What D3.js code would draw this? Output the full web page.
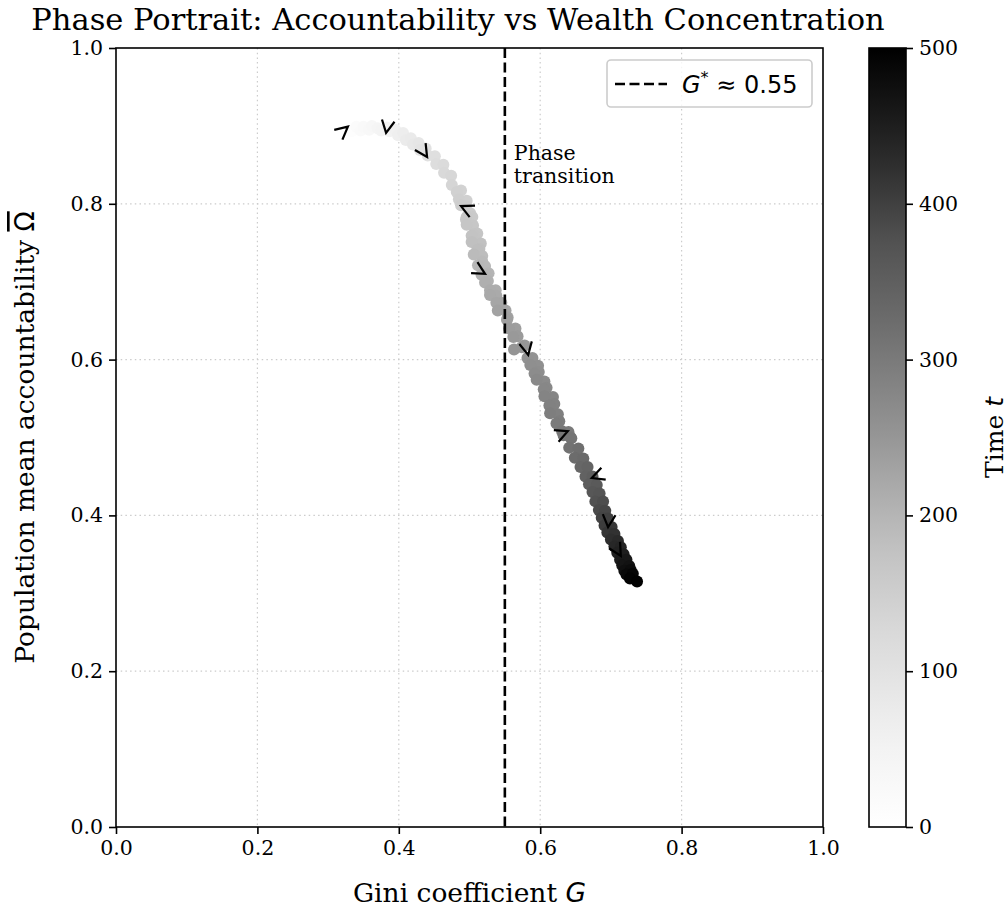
<!DOCTYPE html>
<html>
<head>
<meta charset="utf-8">
<script src="https://cdn.jsdelivr.net/npm/d3@7"></script>
<style>
  html, body { margin: 0; padding: 0; background: #fff; }
  svg { display: block; }
  text { font-family: "DejaVu Serif", serif; fill: #000; }
  .math { font-family: "DejaVu Sans", sans-serif; }
</style>
</head>
<body>
<svg id="chart" width="1008" height="910"></svg>
<script>
// ---------------- data ----------------
const timeSteps = [0,5,10,15,20,25,30,35,40,45,50,55,60,65,70,75,80,85,90,95,
  100,105,110,115,120,125,130,135,
  140,142.5,145,147.5,150,152.5,155,157.5,160,162.5,165,167.5,170,172.5,175,177.5,
  180,182.5,185,187.5,190,192.5,195,197.5,200,202.5,205,207.5,210,212.5,215,217.5,
  220,222.5,225,227.5,230,232.5,235,237.5,240,242.5,245,247.5,250,252.5,255,257.5,
  260,262.5,265,267.5,270,272.5,275,277.5,280,282.5,285,287.5,290,292.5,295,297.5,
  300,302.5,305,307.5,
  310,315,320,325,330,335,340,345,350,355,360,365,370,375,380,385,390,395,
  400,405,410,415,420,425,430,435,440,445,450,455,460,465,470,475,480,485,490,495,499];
const giniValues = [0.322,0.329,0.333,0.340,0.346,0.350,0.358,0.362,0.370,0.375,
  0.383,0.387,0.395,0.399,0.406,0.410,0.417,0.420,0.428,0.430,
  0.438,0.441,0.451,0.453,0.463,0.464,0.474,0.475,
  0.488,0.482,0.496,0.485,0.495,0.488,0.501,0.504,0.496,0.495,0.505,0.496,0.511,0.506,0.503,0.516,
  0.503,0.514,0.511,0.518,0.506,0.518,0.522,0.512,0.527,0.524,0.517,0.526,0.522,0.537,0.529,0.538,
  0.529,0.545,0.538,0.551,0.540,0.554,0.553,0.565,0.556,0.568,0.562,0.578,0.574,0.563,0.589,0.582,
  0.597,0.586,0.598,0.592,0.606,0.595,0.609,0.605,0.618,0.606,0.620,0.613,0.625,0.614,0.627,0.623,
  0.640,0.631,0.642,0.633,
  0.644,0.641,0.654,0.649,0.661,0.657,0.667,0.664,0.674,0.669,0.680,0.674,0.684,0.678,0.689,0.683,0.692,0.687,
  0.696,0.691,0.701,0.695,0.705,0.700,0.710,0.705,0.714,0.709,0.718,0.713,0.722,0.716,0.726,0.719,0.728,0.722,0.731,0.727,0.737];
const omegaValues = [0.892,0.896,0.893,0.899,0.894,0.899,0.895,0.900,0.897,0.894,
  0.898,0.893,0.895,0.888,0.891,0.882,0.884,0.876,0.878,0.869,
  0.871,0.862,0.861,0.851,0.850,0.840,0.836,0.824,
  0.817,0.815,0.804,0.806,0.797,0.798,0.788,0.783,0.783,0.780,0.772,0.773,0.762,0.761,0.759,0.749,
  0.751,0.742,0.741,0.733,0.735,0.726,0.720,0.721,0.711,0.709,0.709,0.701,0.699,0.689,0.689,0.682,
  0.683,0.673,0.673,0.663,0.663,0.654,0.651,0.640,0.640,0.630,0.629,0.618,0.616,0.613,0.602,0.602,
  0.592,0.593,0.584,0.582,0.572,0.574,0.564,0.562,0.552,0.553,0.543,0.541,0.530,0.531,0.521,0.518,
  0.507,0.508,0.501,0.503,
  0.499,0.487,0.486,0.474,0.473,0.462,0.462,0.450,0.450,0.440,0.439,0.430,0.428,0.418,0.418,0.407,0.406,0.397,
  0.396,0.387,0.385,0.378,0.376,0.369,0.367,0.360,0.359,0.352,0.350,0.343,0.343,0.336,0.335,0.329,0.330,0.324,0.325,0.319,0.315];

// direction arrows along the trajectory (tip position and heading in degrees, screen frame)
const arrowGini  = [0.328,0.382,0.440,0.488,0.522,0.583,0.639,0.673,0.696,0.714];
const arrowOmega = [0.899,0.891,0.860,0.797,0.710,0.606,0.508,0.448,0.385,0.348];
const arrowAngle = [-40,100,57,205,30,78,-22,160,95,60];

const criticalGini = 0.55;
const xTicks = [0,0.2,0.4,0.6,0.8,1.0];
const yTicks = [0,0.2,0.4,0.6,0.8,1.0];
const cbarTicks = [0,100,200,300,400,500];
const tMax = 500;
const greysPalette = ["#ffffff","#f0f0f0","#d9d9d9","#bdbdbd","#969696","#737373","#525252","#252525","#000000"];

// ---------------- layout ----------------
const svg = d3.select("#chart");
const L = 116, R = 823, T = 48, B = 827;
const x = d3.scaleLinear().domain([0,1]).range([L,R]);
const y = d3.scaleLinear().domain([0,1]).range([B,T]);
const greys = d3.scaleLinear()
  .domain(greysPalette.map((_,i)=> i/(greysPalette.length-1)))
  .range(greysPalette).interpolate(d3.interpolateRgb).clamp(true);
const color = t => greys(t / tMax);

// grid
const grid = svg.append("g");
xTicks.slice(1,-1).forEach(v => grid.append("line")
  .attr("x1", x(v)).attr("x2", x(v)).attr("y1", T).attr("y2", B)
  .attr("stroke", "#cccccc").attr("stroke-width", 1.2).attr("stroke-dasharray", "1.5,3.2"));
yTicks.slice(1,-1).forEach(v => grid.append("line")
  .attr("y1", y(v)).attr("y2", y(v)).attr("x1", L).attr("x2", R)
  .attr("stroke", "#cccccc").attr("stroke-width", 1.2).attr("stroke-dasharray", "1.5,3.2"));

// scatter trajectory
const pts = timeSteps.map((t,i)=>({t, g: giniValues[i], o: omegaValues[i]}));
svg.append("g").selectAll("circle").data(pts).join("circle")
  .attr("cx", d => x(d.g)).attr("cy", d => y(d.o)).attr("r", 6)
  .attr("fill", d => color(d.t));

// critical line
svg.append("line")
  .attr("x1", x(criticalGini)).attr("x2", x(criticalGini)).attr("y1", T).attr("y2", B)
  .attr("stroke", "#000").attr("stroke-width", 2.6).attr("stroke-dasharray", "10,4.5");

svg.append("text").attr("x", x(criticalGini) + 9).attr("y", 160)
  .attr("font-size", 20.5).text("Phase");
svg.append("text").attr("x", x(criticalGini) + 9).attr("y", 183)
  .attr("font-size", 20.5).text("transition");

// arrows (open chevrons)
const headLen = 14, halfAng = 27 * Math.PI / 180;
arrowGini.forEach((g,i) => {
  const px = x(g), py = y(arrowOmega[i]);
  const a = arrowAngle[i] * Math.PI / 180;
  const p1 = [px - headLen*Math.cos(a - halfAng), py - headLen*Math.sin(a - halfAng)];
  const p2 = [px - headLen*Math.cos(a + halfAng), py - headLen*Math.sin(a + halfAng)];
  svg.append("path")
    .attr("d", `M${p1[0]},${p1[1]}L${px},${py}L${p2[0]},${p2[1]}`)
    .attr("fill", "none").attr("stroke", "#000").attr("stroke-width", 2.2)
    .attr("stroke-linejoin", "miter").attr("stroke-linecap", "butt");
});

// axes
const fmt = d3.format(".1f");
const xAxis = svg.append("g").attr("transform", `translate(0,${B})`)
  .call(d3.axisBottom(x).tickValues(xTicks).tickFormat(fmt).tickSize(7).tickPadding(6));
const yAxis = svg.append("g").attr("transform", `translate(${L},0)`)
  .call(d3.axisLeft(y).tickValues(yTicks).tickFormat(fmt).tickSize(7).tickPadding(6));
[xAxis, yAxis].forEach(a => {
  a.select(".domain").remove();
  a.selectAll(".tick line").attr("stroke", "#000").attr("stroke-width", 1.6);
  a.selectAll(".tick text").attr("font-family", "DejaVu Serif").attr("font-size", 20.5).attr("fill", "#000");
});
svg.append("rect").attr("x", L).attr("y", T).attr("width", R-L).attr("height", B-T)
  .attr("fill", "none").attr("stroke", "#000").attr("stroke-width", 1.6);

// title & labels
svg.append("text").attr("x", 458).attr("y", 30).attr("text-anchor", "middle")
  .attr("font-size", 30.5).text("Phase Portrait: Accountability vs Wealth Concentration");
const xl = svg.append("text").attr("x", (L+R)/2).attr("y", 902).attr("text-anchor", "middle").attr("font-size", 26.5);
xl.append("tspan").text("Gini coefficient ");
xl.append("tspan").attr("class", "math").attr("font-style", "italic").text("G");
const yl = svg.append("text").attr("transform", `translate(34,${(T+B)/2}) rotate(-90)`)
  .attr("text-anchor", "middle").attr("font-size", 26.5);
yl.append("tspan").text("Population mean accountability ");
yl.append("tspan").attr("class", "math").style("text-decoration", "overline").text("\u03A9");

// legend
const lg = svg.append("g");
lg.append("rect").attr("x", 607).attr("y", 60).attr("width", 205).attr("height", 47).attr("rx", 4)
  .attr("fill", "#fff").attr("fill-opacity", 0.8).attr("stroke", "#cccccc").attr("stroke-width", 1.6);
lg.append("line").attr("x1", 615).attr("x2", 667).attr("y1", 84).attr("y2", 84)
  .attr("stroke", "#000").attr("stroke-width", 2.6).attr("stroke-dasharray", "10,4.5");
const lt = lg.append("text").attr("x", 682).attr("y", 93).attr("class", "math").attr("font-size", 24);
lt.append("tspan").attr("font-style", "italic").text("G");
lt.append("tspan").attr("dy", -10).attr("font-size", 16).text("*");
lt.append("tspan").attr("dy", 10).text(" \u2248 0.55");

// colorbar
const cx0 = 869, cx1 = 906;
const cy = d3.scaleLinear().domain([0,tMax]).range([B,T]);
const defs = svg.append("defs");
const grad = defs.append("linearGradient").attr("id", "cbar")
  .attr("x1", 0).attr("y1", 1).attr("x2", 0).attr("y2", 0);
d3.range(0, 1.0001, 0.05).forEach(f => grad.append("stop")
  .attr("offset", f).attr("stop-color", greys(f)));
svg.append("rect").attr("x", cx0).attr("y", T).attr("width", cx1-cx0).attr("height", B-T)
  .attr("fill", "url(#cbar)");
const cAxis = svg.append("g").attr("transform", `translate(${cx1},0)`)
  .call(d3.axisRight(cy).tickValues(cbarTicks).tickFormat(d3.format("d")).tickSize(7).tickPadding(6));
cAxis.select(".domain").remove();
cAxis.selectAll(".tick line").attr("stroke", "#000").attr("stroke-width", 1.6);
cAxis.selectAll(".tick text").attr("font-family", "DejaVu Serif").attr("font-size", 20.5).attr("fill", "#000");
svg.append("rect").attr("x", cx0).attr("y", T).attr("width", cx1-cx0).attr("height", B-T)
  .attr("fill", "none").attr("stroke", "#000").attr("stroke-width", 1.6);
const cl = svg.append("text").attr("transform", `translate(1003,${(T+B)/2}) rotate(-90)`)
  .attr("text-anchor", "middle").attr("font-size", 25);
cl.append("tspan").text("Time ");
cl.append("tspan").attr("class", "math").attr("font-style", "italic").text("t");
</script>
</body>
</html>
